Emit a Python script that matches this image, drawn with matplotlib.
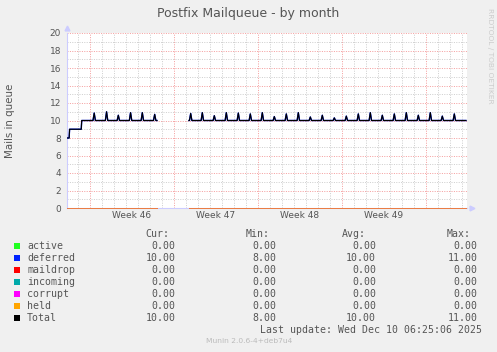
import matplotlib
matplotlib.use("Agg")
import matplotlib.pyplot as plt
from matplotlib.patches import Rectangle
import numpy as np

# x unit = days, 0 = start of week 46
x_min, x_max = -23 / 12, 377 / 12
week_starts = [0, 7, 14, 21, 28]
week_labels = ["Week 46", "Week 47", "Week 48", "Week 49"]
week_label_pos = [3.5, 10.5, 17.5, 24.5]

# data segments (start, end) where the queue was sampled
segments = [(-1.917, 5.58), (8.25, 31.33)]
# early ramp of the first segment
ramp_t = [-1.917, -1.74, -1.70, -0.73, -0.69]
ramp_v = [8, 8, 9, 9, 10]
baseline = 10
# daily spikes of the deferred queue
spike_days = [0.35, 1.38, 2.36, 3.38, 4.36, 5.39,
              8.39, 9.36, 10.36, 11.36, 12.36, 13.36, 14.36, 15.36, 16.36,
              17.36, 18.36, 19.36, 20.36, 21.36, 22.36, 23.36, 24.36, 25.36,
              26.36, 27.36, 28.36, 29.36, 30.36]
spike_peaks = [10.85, 11.0, 10.6, 10.9, 10.9, 10.7,
               10.8, 10.9, 10.55, 10.9, 10.85, 10.75, 10.9, 10.45, 10.75,
               10.9, 10.4, 10.6, 10.3, 10.5, 10.75, 10.9, 10.6, 10.75,
               10.9, 10.6, 10.9, 10.5, 10.75]

names = ["active", "deferred", "maildrop", "incoming", "corrupt", "held", "Total"]
colors = ["#22ff22", "#0022ff", "#ff0000", "#00aaaa", "#ff00ff", "#ffa500", "#000000"]
cur = ["0.00", "10.00", "0.00", "0.00", "0.00", "0.00", "10.00"]
mins = ["0.00", "8.00", "0.00", "0.00", "0.00", "0.00", "8.00"]
avgs = ["0.00", "10.00", "0.00", "0.00", "0.00", "0.00", "10.00"]
maxs = ["0.00", "11.00", "0.00", "0.00", "0.00", "0.00", "11.00"]


def queue_series():
    t, v = list(ramp_t), list(ramp_v)
    for (s, e) in segments:
        if s != segments[0][0]:
            t += [np.nan, s]
            v += [np.nan, baseline]
        for d, p in zip(spike_days, spike_peaks):
            if s <= d <= e:
                t += [d - 0.1, d, d + 0.1]
                v += [baseline, p, baseline]
        t.append(e)
        v.append(baseline)
    return np.array(t), np.array(v)


def zero_series():
    t, v = [], []
    for (s, e) in segments:
        t += [s, e, np.nan]
        v += [0, 0, np.nan]
    return np.array(t), np.array(v)


W, H = 497, 352
def fx(x):
    return x / W
def fy(y):
    return 1 - y / H

fig = plt.figure(figsize=(W / 100, H / 100), dpi=100, facecolor="#f0f0f0")
ax = fig.add_axes([fx(67), fy(208), 400 / W, 175 / H])
ax.set_facecolor("white")
ax.set_xlim(x_min, x_max)
ax.set_ylim(0, 20)

grid_kw = dict(linewidth=0.72, dashes=(1, 1.4), zorder=1)
for d in range(-1, 32):
    c = "#f5a0a0" if d in week_starts else "#cfcfcf"
    ax.axvline(d, color=c, **grid_kw)
for yv in range(1, 21):
    c = "#f5a0a0" if yv % 2 == 0 else "#cfcfcf"
    ax.axhline(yv, color=c, **grid_kw)

zt, zv = zero_series()
for n, c in zip(names[:-1], colors[:-1]):
    if n == "deferred":
        continue
    ax.plot(zt, zv, color=c, lw=0.6, alpha=0.8, zorder=3, clip_on=False)
qt, qv = queue_series()
ax.plot(qt, qv, color=colors[1], lw=1.0, zorder=4)
ax.plot(qt, qv, color=colors[-1], lw=0.85, zorder=5)

for s in ["top", "right"]:
    ax.spines[s].set_visible(False)
for s in ["left", "bottom"]:
    ax.spines[s].set_color("#ccccff")
    ax.spines[s].set_linewidth(0.8)
    ax.spines[s].set_zorder(2)
ax.plot([0], [1.03], marker="^", ms=3.5, color="#ccccff", transform=ax.transAxes, clip_on=False)
ax.plot([1.012], [0], marker=">", ms=3.5, color="#ccccff", transform=ax.transAxes, clip_on=False)

ax.set_yticks(range(0, 21, 2))
ax.set_xticks(week_label_pos)
ax.set_xticklabels(week_labels)
ax.tick_params(length=0, labelsize=6.5, colors="#555555")
ax.tick_params(axis="y", pad=4.3)
ax.tick_params(axis="x", pad=2.5)

fig.text(fx(248), fy(14), "Postfix Mailqueue - by month", ha="center", va="center",
         fontsize=9.0, color="#555555")
fig.text(fx(10), fy(121), "Mails in queue", rotation=90, ha="center", va="center",
         fontsize=7.4, color="#555555")
fig.text(fx(490), fy(56), "RRDTOOL / TOBI OETIKER", rotation=-90, ha="center", va="center",
         fontsize=5.4, color="#cccccc")

mono = dict(family="DejaVu Sans Mono", fontsize=7.1, color="#555555", va="center")
fig.text(fx(145.7), fy(234), "Cur:", ha="left", **mono)
fig.text(fx(246), fy(234), "Min:", ha="left", **mono)
fig.text(fx(341.7), fy(234), "Avg:", ha="left", **mono)
fig.text(fx(446.7), fy(234), "Max:", ha="left", **mono)
for i, n in enumerate(names):
    y = 245.7 + 12 * i
    fig.patches.append(Rectangle((fx(14), fy(y + 3)), 6 / W, 6 / H, transform=fig.transFigure,
                                 facecolor=colors[i], edgecolor="none"))
    fig.text(fx(27), fy(y), n, ha="left", **mono)
    fig.text(fx(175.3), fy(y), cur[i], ha="right", **mono)
    fig.text(fx(276), fy(y), mins[i], ha="right", **mono)
    fig.text(fx(376), fy(y), avgs[i], ha="right", **mono)
    fig.text(fx(477.3), fy(y), maxs[i], ha="right", **mono)
fig.text(fx(482), fy(330), "Last update: Wed Dec 10 06:25:06 2025", ha="right", **mono)
fig.text(fx(249), fy(341), "Munin 2.0.6-4+deb7u4", ha="center", va="center",
         fontsize=5.4, color="#bbbbbb")

fig.savefig("out.png", dpi=100, facecolor=fig.get_facecolor())
